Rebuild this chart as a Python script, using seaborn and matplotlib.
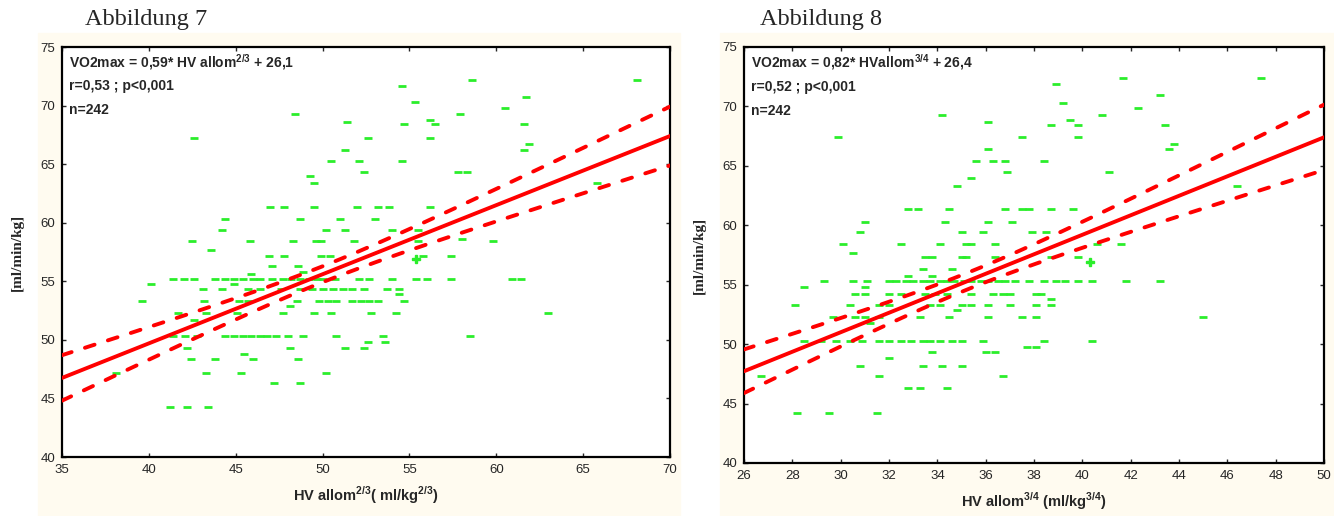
import matplotlib
matplotlib.use("Agg")
import matplotlib.pyplot as plt
import matplotlib.patches as mpatches
import numpy as np
import pandas as pd
import seaborn as sns

# ---- data (y level -> x values on that level) ----
left_levels = [72.2, 71.7, 70.7, 70.3, 69.8, 69.3, 68.8, 68.6, 68.4, 67.2, 66.7, 66.2,
               65.3, 64.3, 64.0, 63.4, 61.3, 60.3, 59.4, 58.6, 58.4, 57.7, 57.2, 56.3,
               55.8, 55.6, 55.2, 54.8, 54.3, 53.9, 53.3, 52.9, 52.3, 51.7, 50.3, 49.8,
               49.3, 48.8, 48.4, 47.2, 46.3, 44.3]
left_x_by_level = [
    [58.6, 68.1], [54.6], [61.7], [55.3], [60.5], [48.4, 57.9], [56.2], [51.4],
    [54.7, 56.5, 61.6], [42.6, 52.6, 56.2], [61.9], [51.3, 61.6],
    [50.5, 52.1, 54.6], [52.4, 57.8, 58.3], [49.3], [49.5, 65.8],
    [47.0, 47.8, 49.5, 52.0, 53.2, 53.8, 56.2],
    [44.4, 48.7, 51.0, 53.0],
    [44.2, 50.2, 51.3, 54.0, 55.5],
    [58.0],
    [42.5, 45.8, 48.3, 49.6, 49.9, 51.8, 55.5, 59.8],
    [43.6],
    [46.9, 47.8, 49.9, 50.4, 55.8, 57.4],
    [47.1, 48.6], [48.9], [45.9],
    [41.4, 42.0, 42.6, 43.8, 44.4, 44.9, 45.4, 46.0, 46.4, 47.1, 47.7, 48.2, 48.7,
     49.2, 49.7, 50.0, 50.7, 52.1, 52.7, 54.0, 55.4, 56.0, 57.4, 60.9, 61.4],
    [40.1, 44.9],
    [43.1, 44.2, 45.7, 46.4, 47.6, 48.7, 49.4, 50.0, 50.6, 51.2, 51.7, 52.4, 53.7, 54.4],
    [54.4],
    [39.6, 43.2, 45.2, 45.7, 48.5, 49.8, 50.3, 50.8, 51.7, 52.2, 52.7, 53.2, 54.7],
    [48.1],
    [41.7, 43.3, 45.1, 47.7, 49.5, 50.5, 52.8, 54.2, 63.0],
    [42.6],
    [41.4, 42.1, 42.8, 44.4, 44.9, 45.4, 45.9, 46.4, 46.8, 47.3, 48.0, 48.9, 50.8, 53.5, 58.5],
    [52.6, 53.6],
    [42.2, 48.1, 51.3, 52.4],
    [45.5],
    [42.4, 43.8, 46.0, 48.6],
    [38.1, 43.3, 45.3, 50.2],
    [47.2, 48.7],
    [41.2, 42.2, 43.4],
]

right_levels = [72.4, 71.9, 71.0, 70.3, 69.9, 69.3, 68.9, 68.7, 68.4, 67.4, 66.8, 66.4,
                65.4, 64.5, 64.0, 63.3, 61.4, 60.3, 59.4, 58.4, 57.7, 57.3, 56.3, 55.7,
                55.3, 54.8, 54.2, 53.8, 53.3, 52.9, 52.3, 51.8, 50.3, 49.8, 49.3, 48.8,
                48.2, 47.3, 46.3, 44.2]
right_x_by_level = [
    [41.7, 47.4], [38.9], [43.2], [39.2], [42.3], [34.2, 40.8], [39.5], [36.1],
    [38.7, 39.8, 43.4], [29.9, 37.5, 39.8], [43.8], [36.1, 43.6],
    [35.6, 36.3, 36.8, 38.4], [36.9, 41.1], [35.4], [34.8, 46.4],
    [32.8, 33.2, 34.5, 36.8, 37.5, 37.8, 38.7, 39.6],
    [31.0, 34.3, 36.1, 37.1],
    [30.8, 35.0, 35.9, 37.9, 38.5],
    [30.1, 32.5, 34.1, 35.2, 35.4, 36.4, 40.6, 41.6],
    [30.5],
    [33.5, 33.8, 35.0, 35.2, 36.4, 38.7, 39.8],
    [33.4, 34.6], [32.8, 33.8],
    [29.3, 30.5, 31.1, 32.0, 32.3, 32.7, 33.0, 33.4, 33.7, 34.1, 34.4, 34.7, 35.1, 35.4,
     35.8, 36.1, 36.5, 36.8, 37.2, 37.8, 38.4, 38.9, 39.3, 39.8, 40.4, 41.8, 43.2],
    [28.5, 31.0],
    [30.6, 31.0, 32.0, 32.5, 33.5, 33.9, 34.4, 35.4, 36.3, 36.7, 37.0, 38.1, 38.3],
    [38.7],
    [28.1, 30.4, 31.6, 32.0, 33.7, 34.1, 35.0, 35.4, 36.1, 37.0, 38.1, 38.7],
    [34.8],
    [29.7, 30.6, 31.0, 31.6, 33.3, 34.5, 36.1, 37.5, 38.1, 45.0],
    [31.2],
    [28.5, 29.2, 29.8, 30.4, 30.9, 31.6, 32.0, 32.5, 32.9, 33.4, 33.7, 34.1, 34.6, 35.0,
     35.9, 38.4, 40.4],
    [37.7, 38.1],
    [33.8, 36.0, 36.4],
    [32.0],
    [30.8, 33.4, 34.2, 35.0],
    [26.7, 31.6, 36.7],
    [32.8, 33.3, 34.4],
    [28.2, 29.5, 31.5],
]

left_mark = (55.4, 56.9)
right_mark = (40.3, 56.9)

left_fit = (0.59, 26.1)
right_fit = (0.82, 26.4)
n_total = 242

left_text = [r"VO2max = 0,59* HV allom$^{\mathbf{2/3}}$ + 26,1", "r=0,53 ; p<0,001", "n=242"]
right_text = [r"VO2max = 0,82* HVallom$^{\mathbf{3/4}}$ + 26,4", "r=0,52 ; p<0,001", "n=242"]

GREEN = "#2bee2b"
CREAM = "#fffbf0"


def to_frame(levels, xs):
    rows = [(x, y) for y, row in zip(levels, xs) for x in row]
    return pd.DataFrame(rows, columns=["x", "y"])


def draw_panel(ax, df, fit, mark, xlim, xticks, texts, xlabel):
    ax.set_facecolor("white")
    sns.scatterplot(data=df, x="x", y="y", marker="_", s=28, linewidth=2.0,
                    color=GREEN, ax=ax, legend=False, zorder=2)
    ax.plot([mark[0]], [mark[1]], marker="P", color=GREEN, markersize=6, zorder=2)

    # regression line from the printed equation, 95% band from the sample spread
    slope, intercept = fit
    grid = np.linspace(xlim[0], xlim[1], 200)
    line = intercept + slope * grid
    resid = df["y"] - (intercept + slope * df["x"])
    s = np.sqrt((resid ** 2).sum() / (len(df) - 2))
    xbar = df["x"].mean()
    var_x = df["x"].var()
    half = 1.97 * s * np.sqrt(1.0 / n_total + (grid - xbar) ** 2 / (n_total * var_x))

    sns.lineplot(x=grid, y=line, color="red", linewidth=2.8, ax=ax, zorder=3,
                 solid_capstyle="round")
    for band in (line + half, line - half):
        sns.lineplot(x=grid, y=band, color="red", linewidth=2.8, ax=ax, zorder=3,
                     linestyle=(0, (2.6, 3.6)), dash_capstyle="round")

    ax.set_xlim(*xlim)
    ax.set_ylim(40, 75)
    ax.set_xticks(xticks)
    ax.set_yticks(range(40, 76, 5))
    ax.tick_params(axis="both", labelsize=9.5, length=3, width=1, direction="in",
                   top=True, right=True, pad=5)
    for sp in ax.spines.values():
        sp.set_linewidth(1.6)
        sp.set_color("black")

    ax.set_ylabel("[ml/min/kg]", family="Liberation Serif", fontweight="bold",
                  fontsize=11, labelpad=12)
    ax.set_xlabel(xlabel, fontweight="bold", fontsize=10.5, labelpad=6)

    for i, t in enumerate(texts):
        ax.text(0.012, 0.963 - i * 0.058, t, transform=ax.transAxes, fontsize=10,
                fontweight="bold", va="center", ha="left")


def main():
    sns.set_style("ticks")
    plt.rcParams["font.family"] = ["Liberation Sans", "DejaVu Sans"]
    plt.rcParams["mathtext.fontset"] = "custom"
    plt.rcParams["mathtext.rm"] = "Liberation Sans"
    plt.rcParams["mathtext.bf"] = "Liberation Sans:bold"

    W, H = 1334, 516
    fig = plt.figure(figsize=(W / 100, H / 100), dpi=100)
    fig.patch.set_facecolor("white")

    fig.patches.append(mpatches.Rectangle((38 / W, 0), (680 - 38) / W, (516 - 33) / H,
                                          transform=fig.transFigure, color=CREAM, zorder=-10))
    fig.patches.append(mpatches.Rectangle((720 / W, 0), (1334 - 720) / W, (516 - 33) / H,
                                          transform=fig.transFigure, color=CREAM, zorder=-10))

    ax_l = fig.add_axes([62 / W, 1 - 457 / H, (670 - 62) / W, (457 - 47) / H])
    ax_r = fig.add_axes([744 / W, 1 - 463 / H, (1324 - 744) / W, (463 - 47) / H])

    draw_panel(ax_l, to_frame(left_levels, left_x_by_level), left_fit, left_mark,
               (35, 70), range(35, 71, 5), left_text,
               r"HV allom$^{\mathbf{2/3}}$( ml/kg$^{\mathbf{2/3}}$)")
    draw_panel(ax_r, to_frame(right_levels, right_x_by_level), right_fit, right_mark,
               (26, 50), range(26, 51, 2), right_text,
               r"HV allom$^{\mathbf{3/4}}$ (ml/kg$^{\mathbf{3/4}}$)")

    fig.text(85 / W, 1 - 19 / H, "Abbildung 7", family="Liberation Serif", fontsize=17.5,
             va="center", ha="left")
    fig.text(760 / W, 1 - 19 / H, "Abbildung 8", family="Liberation Serif", fontsize=17.5,
             va="center", ha="left")

    fig.savefig("out.png", dpi=100)
    plt.close(fig)


if __name__ == "__main__":
    main()
